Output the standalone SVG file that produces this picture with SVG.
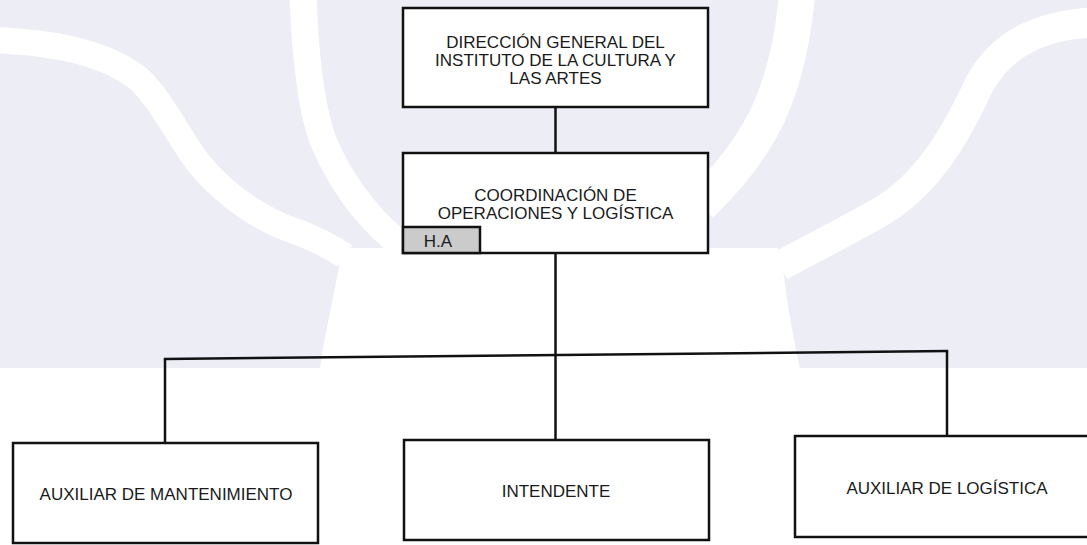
<svg xmlns="http://www.w3.org/2000/svg" width="1087" height="545" viewBox="0 0 1087 545">
<style>
.box{fill:#ffffff;stroke:#111111;stroke-width:2.5}
.tag{fill:#cbcbcb;stroke:#111111;stroke-width:2.5}
.lbl{font-family:"Liberation Sans",Arial,sans-serif;font-size:17px;fill:#1a1a1a;text-anchor:middle}
.conn{stroke:#111111;stroke-width:2.5;fill:none}
.band{stroke:#ffffff;fill:none;stroke-linecap:butt}
</style>
<g id="background">
<rect x="0" y="0" width="1087" height="545" fill="#ffffff"/>
<rect x="0" y="0" width="1087" height="368" fill="#ededf6"/>
<path d="M342,248 C336,290 324,335 320,369 L800,369 C793,335 787,305 784,275 L778,248 Z" fill="#ffffff"/>
<path class="band" stroke-width="26" d="M-10,40 C60,42 110,55 140,80 C165,105 180,140 200,165 C225,195 260,220 300,233 C318,240 330,246 345,256"/>
<path class="band" stroke-width="27" d="M303,-5 C305,50 310,110 325,145 C340,180 365,215 395,240 C402,246 406,250 410,255"/>
<path class="band" stroke-width="30" d="M1100,22 C1040,24 1000,44 978,87 C955,137 925,188 875,215 C830,240 805,252 780,266"/>
<path class="band" stroke-width="36" d="M797,-5 C792,50 780,95 760,130 C740,165 720,185 700,205"/>
</g>
<g id="connectors">
<line class="conn" x1="555.5" y1="107" x2="555.5" y2="153"/>
<line class="conn" x1="555.5" y1="253" x2="555.5" y2="440"/>
<line class="conn" x1="163.8" y1="359" x2="948.2" y2="351"/>
<line class="conn" x1="165" y1="359" x2="165" y2="443"/>
<line class="conn" x1="947" y1="351" x2="947" y2="436"/>
</g>
<g id="n-direccion">
<rect class="box" x="403" y="8" width="305" height="99"/>
<text class="lbl" x="555.5" y="48">DIRECCIÓN GENERAL DEL</text>
<text class="lbl" x="555.5" y="66">INSTITUTO DE LA CULTURA Y</text>
<text class="lbl" x="555.5" y="84">LAS ARTES</text>
</g>
<g id="n-coordinacion">
<rect class="box" x="403" y="153" width="305" height="100"/>
<text class="lbl" x="555.5" y="201">COORDINACIÓN DE</text>
<text class="lbl" x="555.5" y="219">OPERACIONES Y LOGÍSTICA</text>
<rect class="tag" x="403" y="227" width="77" height="26"/>
<text class="lbl" x="438" y="247">H.A</text>
</g>
<g id="n-mantenimiento">
<rect class="box" x="13" y="443" width="305" height="100"/>
<text class="lbl" x="166" y="500">AUXILIAR DE MANTENIMIENTO</text>
</g>
<g id="n-intendente">
<rect class="box" x="404" y="440" width="305" height="100"/>
<text class="lbl" x="556" y="497">INTENDENTE</text>
</g>
<g id="n-logistica">
<rect class="box" x="795" y="436" width="310" height="101"/>
<text class="lbl" x="947" y="494">AUXILIAR DE LOGÍSTICA</text>
</g>
</svg>
